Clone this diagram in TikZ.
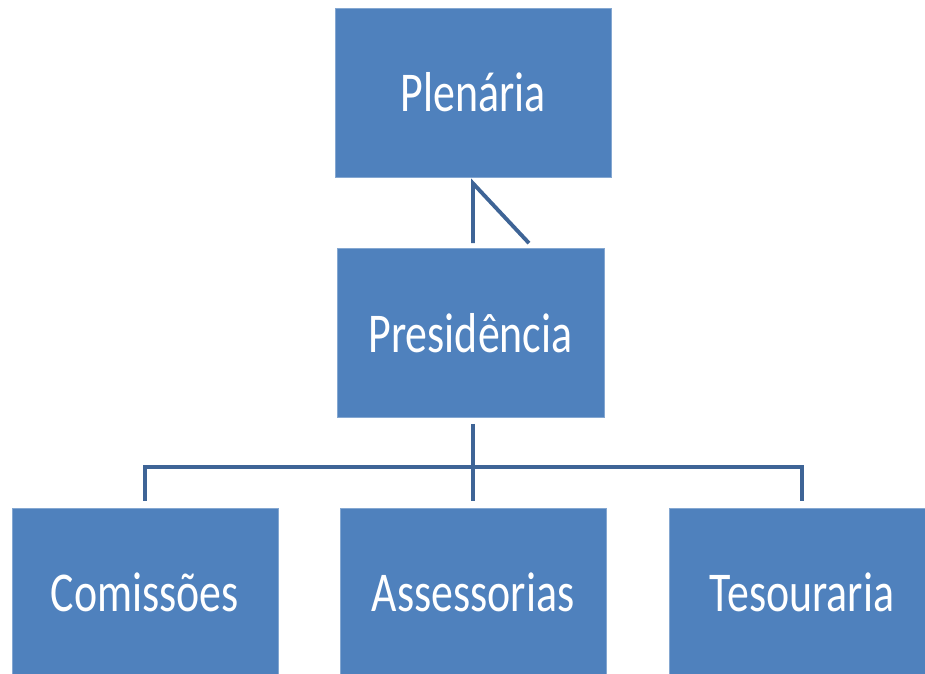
\documentclass[tikz,border=0pt]{standalone}
\usepackage{fontspec}
\setmainfont{Carlito}
\usepackage{tikz}
\usetikzlibrary{positioning}
\definecolor{boxblue}{RGB}{79,129,189}
\definecolor{lineblue}{RGB}{62,100,150}
\newcommand{\narrow}[1]{\scalebox{0.78}[1]{#1}}
\tikzstyle{unit}=[fill=boxblue, draw=boxblue!70!white, line width=0.4pt, text=white, minimum width=5.32cm, minimum height=3.38cm, font=\fontsize{32}{36}\selectfont]
\tikzstyle{link}=[draw=lineblue, line width=2.2pt]

\begin{document}
\begin{tikzpicture}[x=0.02cm, y=-0.02cm]
            \clip (0,0) rectangle (925,673);
            \node[unit, minimum width=5.52cm] (plen) at (473,92.5) {\narrow{Plenária}};
            \node[unit, minimum width=5.34cm] (pres) at (470.5,333) {\narrow{Presidência}};
            \node[unit] (comi) at (145,592.5) {\narrow{Comissões}};
            \node[unit] (asse) at (473,592.5) {\narrow{Assessorias}};
            \node[unit] (teso) at (802,592.5) {\narrow{Tesouraria}};

            \coordinate (top) at ([yshift=-0.12cm]plen.south);
            \coordinate (foot) at ([yshift=0.1cm]pres.north -| top);
            \coordinate (slant) at ([xshift=1.12cm]foot);
            \coordinate (stem) at ([yshift=-0.12cm]pres.south -| top);
            \coordinate (bus) at (473,467);

            \draw[link] (slant) -- (top) -- (foot);
            \draw[link] (stem) -- ([yshift=0.14cm]asse.north);
            \draw[link] ([yshift=0.14cm]comi.north) |- (bus) -| ([yshift=0.14cm]teso.north);
        \end{tikzpicture}
\end{document}
